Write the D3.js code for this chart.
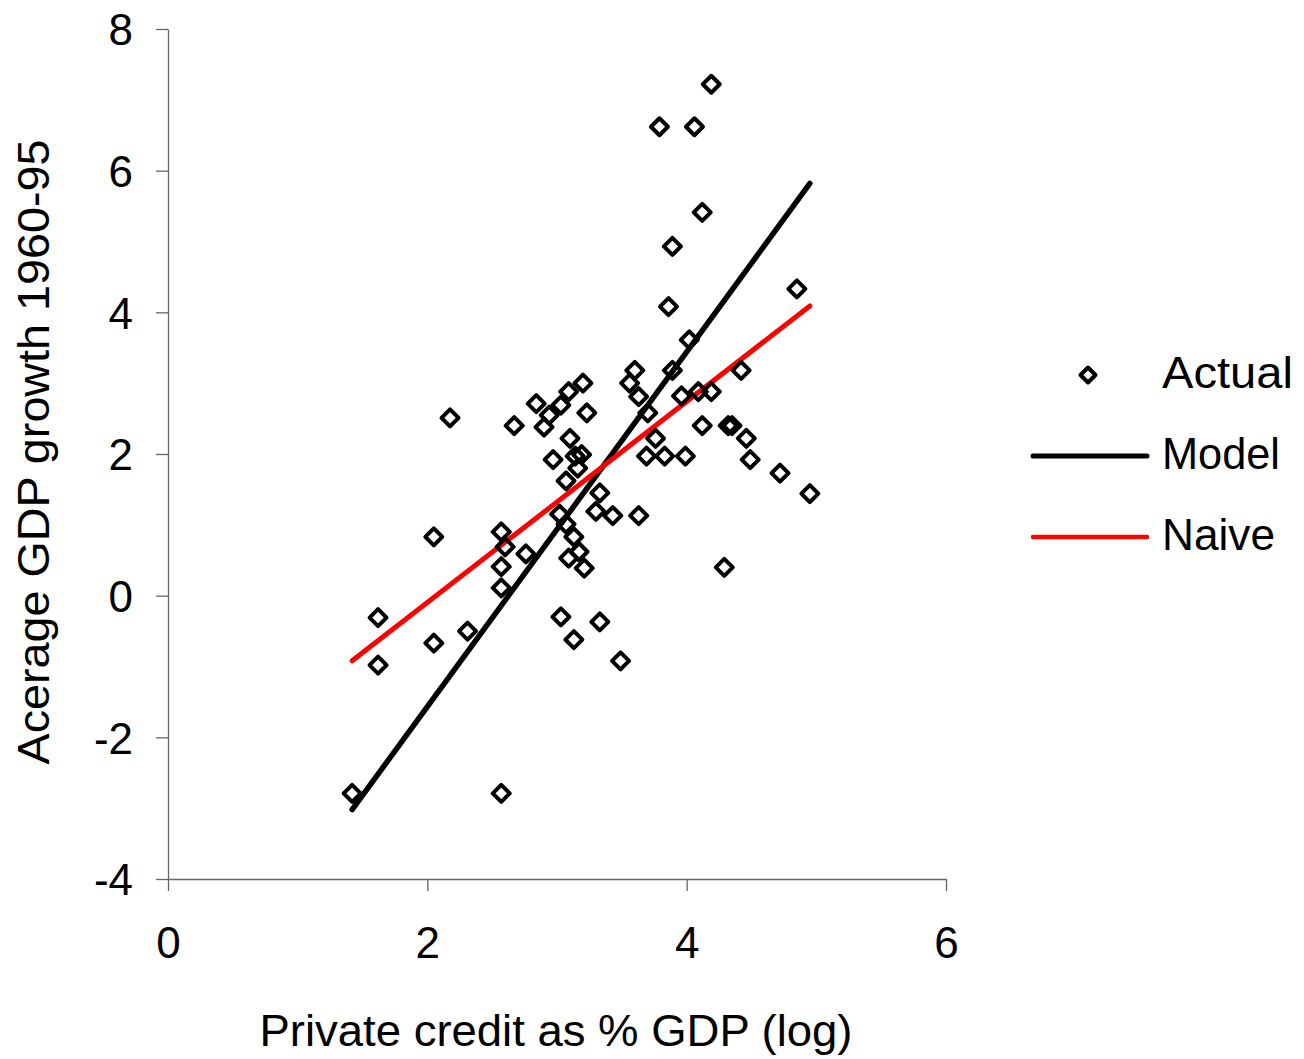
<!DOCTYPE html>
<html>
<head>
<meta charset="utf-8">
<script src="https://cdn.jsdelivr.net/npm/d3@7"></script>
<style>
  html, body { margin: 0; padding: 0; background: #fff; }
  svg { display: block; font-family: "Liberation Sans", Arial, sans-serif; }
</style>
</head>
<body>
<svg id="chart" width="1304" height="1059"></svg>
<script>
// ---- Data ----
const actualX = [1.42,1.62,1.62,2.05,2.05,2.175,2.31,2.57,2.60,2.57,2.57,2.57,2.76,2.67,2.84,2.94,2.90,2.97,3.03,3.09,
                 3.20,3.23,3.10,3.14,3.19,3.16,3.07,3.02,3.07,3.13,3.17,3.09,3.21,3.03,3.13,3.33,3.49,3.33,3.30,3.43,
                 3.63,3.60,3.56,3.63,3.70,3.76,3.69,3.83,3.89,3.96,3.99,4.02,4.09,4.19,4.12,4.32,4.35,4.42,4.46,4.49,
                 4.72,4.95,4.29,3.86,3.89,4.12,3.79,4.06,4.19,4.85];
const actualY = [-2.79,-0.31,-0.98,0.83,-0.67,2.51,-0.50,0.90,0.69,0.41,0.11,-2.79,0.59,2.40,2.71,2.55,2.38,1.92,2.69,2.88,
                 3.00,2.58,2.22,1.97,1.99,1.80,1.62,1.15,1.01,0.83,0.62,0.53,0.39,-0.30,-0.62,-0.37,-0.92,1.45,1.19,1.13,
                 1.13,3.18,3.00,2.81,2.58,2.22,1.97,1.97,3.18,2.82,1.97,3.61,2.88,2.88,2.40,2.40,2.40,3.18,2.22,1.92,
                 1.73,1.44,0.40,4.08,4.93,5.41,6.62,6.62,7.22,4.33];
const modelX = [1.42, 4.95];
const modelY = [-3.02, 5.82];
const naiveX = [1.42, 4.95];
const naiveY = [-0.92, 4.09];
const xTicks = [0, 2, 4, 6];
const yTicks = [-4, -2, 0, 2, 4, 6, 8];
const seriesNames = ["Actual", "Model", "Naive"];
const xTitle = "Private credit as % GDP (log)";
const yTitle = "Acerage GDP growth 1960-95";

// ---- Layout ----
const svg = d3.select("#chart");
const x = d3.scaleLinear().domain([0, 6]).range([168, 946]);
const y = d3.scaleLinear().domain([-4, 8]).range([879, 29]);
const axisColor = "#666";
const fmt = d => String(d);

// axes
const gx = svg.append("g").attr("transform", `translate(0,${y(-4)})`)
  .call(d3.axisBottom(x).tickValues(xTicks).tickSize(12).tickSizeOuter(0).tickPadding(36).tickFormat(fmt));
const gy = svg.append("g").attr("transform", `translate(${x(0)},0)`)
  .call(d3.axisLeft(y).tickValues(yTicks).tickSize(12).tickSizeOuter(0).tickPadding(23).tickFormat(fmt));
[gx, gy].forEach(g => {
  g.selectAll("path.domain").attr("stroke", axisColor).attr("stroke-width", 1.3);
  g.selectAll(".tick line").attr("stroke", axisColor).attr("stroke-width", 1.3);
  g.selectAll(".tick text").attr("fill", "#000").attr("font-size", 44)
    .attr("font-family", "'Liberation Sans', Arial, sans-serif");
});
gy.selectAll(".tick text").attr("dy", "0.36em");

// lines
const line = d3.line().x(d => x(d[0])).y(d => y(d[1]));
svg.append("path").datum(modelX.map((v, i) => [v, modelY[i]]))
  .attr("d", line).attr("fill", "none").attr("stroke", "#000").attr("stroke-width", 5.5).attr("stroke-linecap", "round");
svg.append("path").datum(naiveX.map((v, i) => [v, naiveY[i]]))
  .attr("d", line).attr("fill", "none").attr("stroke", "#ff0000").attr("stroke-width", 5).attr("stroke-linecap", "round");

// markers
const diamond = r => `M0,${-r}L${r},0L0,${r}L${-r},0Z`;
svg.append("g").selectAll("path").data(actualX.map((v, i) => [v, actualY[i]]))
  .join("path")
  .attr("transform", d => `translate(${x(d[0])},${y(d[1])})`)
  .attr("d", diamond(8.5))
  .attr("fill", "none").attr("stroke", "#000").attr("stroke-width", 4).attr("stroke-linejoin", "round");

// axis titles
svg.append("text").attr("x", 556).attr("y", 1046).attr("text-anchor", "middle")
  .attr("font-size", 45).attr("textLength", 593).attr("lengthAdjust", "spacingAndGlyphs").text(xTitle);
svg.append("text").attr("transform", "translate(49,452) rotate(-90)").attr("text-anchor", "middle")
  .attr("font-size", 45).attr("textLength", 625).attr("lengthAdjust", "spacingAndGlyphs").text(yTitle);

// legend
const lg = svg.append("g");
lg.append("path").attr("transform", "translate(1088,375)").attr("d", diamond(7.5))
  .attr("fill", "none").attr("stroke", "#000").attr("stroke-width", 4).attr("stroke-linejoin", "round");
lg.append("line").attr("x1", 1033).attr("x2", 1147).attr("y1", 456).attr("y2", 456)
  .attr("stroke", "#000").attr("stroke-width", 5).attr("stroke-linecap", "round");
lg.append("line").attr("x1", 1033).attr("x2", 1147).attr("y1", 537).attr("y2", 537)
  .attr("stroke", "#ff0000").attr("stroke-width", 4.5).attr("stroke-linecap", "round");
const legY = [388, 469, 550];
const legW = [131, 118, 113];
seriesNames.forEach((n, i) => {
  lg.append("text").attr("x", 1162).attr("y", legY[i]).attr("font-size", 45)
    .attr("textLength", legW[i]).attr("lengthAdjust", "spacingAndGlyphs").text(n);
});
</script>
</body>
</html>
